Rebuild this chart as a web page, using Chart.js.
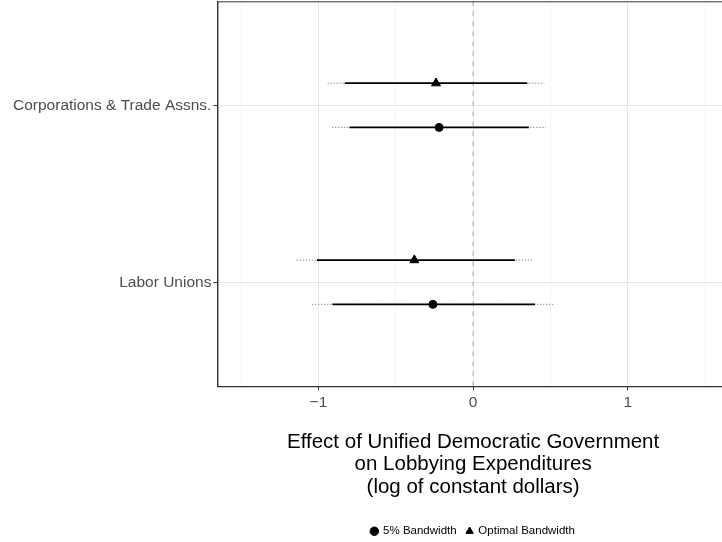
<!DOCTYPE html>
<html>
<head>
<meta charset="utf-8">
<script src="https://cdn.jsdelivr.net/npm/chart.js@4"></script>
<style>
  html, body { margin: 0; padding: 0; background: #fff; overflow: hidden; }
  /* shifted up so the panel touches the top edge like the original */
  #wrap { width: 735px; height: 557px; margin-top: -10px; }
</style>
</head>
<body>
<div id="wrap"><canvas id="coefChart"></canvas></div>
<script>
// Groups, top to bottom, and their position on the y scale
const groups = ["Corporations & Trade Assns.", "Labor Unions"];
const groupPos = [2, 1];
const dodge = 0.125;

// 5% bandwidth (circles)
const est5 = [-0.22, -0.26];
const inner5Lo = [-0.80, -0.91];
const inner5Hi = [0.36, 0.40];
const outer5Lo = [-0.91, -1.04];
const outer5Hi = [0.47, 0.53];

// Optimal bandwidth (triangles)
const estOpt = [-0.24, -0.38];
const innerOptLo = [-0.83, -1.01];
const innerOptHi = [0.35, 0.27];
const outerOptLo = [-0.94, -1.14];
const outerOptHi = [0.46, 0.39];

// x axis
const xTicks = [-1.5, -1, -0.5, 0, 0.5, 1, 1.5];
const xMin = -1.653;
const xMax = 1.653;
const yMin = 0.412;
const yMax = 2.588;
const zeroLine = 0;

const font = "'Liberation Sans', Arial, sans-serif";

// y positions (triangles above, circles below)
const yOpt = groupPos.map(p => p + dodge);
const y5 = groupPos.map(p => p - dodge);

function segments(lo, hi, ys, style) {
	return ys.map((y, i) => Object.assign({
		type: "line",
		label: "_seg",
		data: [{ x: lo[i], y: y }, { x: hi[i], y: y }],
		pointRadius: 0,
		fill: false,
	}, style));
}

const solid = { borderColor: "#000", borderWidth: 1.8 };
const dotted = { borderColor: "#666", borderWidth: 1, borderDash: [1, 2] };

const datasets = [
	{
		type: "scatter",
		label: "5% Bandwidth",
		data: est5.map((v, i) => ({ x: v, y: y5[i] })),
		pointStyle: "circle",
		pointRadius: 4,
		backgroundColor: "#000",
		borderColor: "#000",
	},
	{
		type: "scatter",
		label: "Optimal Bandwidth",
		data: estOpt.map((v, i) => ({ x: v, y: yOpt[i] })),
		pointStyle: "triangle",
		pointRadius: 5.2,
		backgroundColor: "#000",
		borderColor: "#000",
	},
	...segments(inner5Lo, inner5Hi, y5, solid),
	...segments(innerOptLo, innerOptHi, yOpt, solid),
	...segments(outer5Lo, outer5Hi, y5, dotted),
	...segments(outerOptLo, outerOptHi, yOpt, dotted),
	{
		type: "line",
		label: "_zero",
		data: [{ x: zeroLine, y: yMin }, { x: zeroLine, y: yMax }],
		borderColor: "#c4c4c4",
		borderWidth: 1.5,
		borderDash: [5, 5],
		pointRadius: 0,
	},
];

// panel border on top of everything
const panelBorder = {
	id: "panelBorder",
	afterDatasetsDraw(chart) {
		const a = chart.chartArea;
		const ctx = chart.ctx;
		ctx.save();
		ctx.strokeStyle = "#333";
		ctx.lineWidth = 1;
		ctx.strokeRect(a.left + 0.5, a.top + 0.5, a.right - a.left, a.bottom - a.top);
		ctx.restore();
	},
};

new Chart(document.getElementById("coefChart"), {
	type: "scatter",
	data: { datasets: datasets },
	plugins: [panelBorder],
	options: {
		responsive: true,
		maintainAspectRatio: false,
		animation: false,
		layout: { padding: { top: 0, left: 11, right: 4, bottom: 0 } },
		scales: {
			x: {
				type: "linear",
				min: xMin,
				max: xMax,
				afterBuildTicks: (scale) => {
					scale.ticks = xTicks.map(v => ({ value: v }));
				},
				ticks: {
					autoSkip: false,
					maxRotation: 0,
					color: "#4d4d4d",
					font: { family: font, size: 15.5 },
					padding: 3,
					callback: (v) => Number.isInteger(v) ? String(v).replace("-", "\u2212") : "",
				},
				grid: {
					color: (c) => Number.isInteger(c.tick.value) ? "#e6e6e6" : "#f0f0f0",
					lineWidth: (c) => Number.isInteger(c.tick.value) ? 1 : 0.8,
					tickColor: (c) => Number.isInteger(c.tick.value) ? "#333" : "rgba(0,0,0,0)",
					tickLength: 4,
				},
				border: { color: "#333", width: 1 },
				title: {
					display: true,
					text: [
						"Effect of Unified Democratic Government",
						"on Lobbying Expenditures",
						"(log of constant dollars)",
					],
					color: "#000",
					font: { family: font, size: 20.5, lineHeight: 1.1 },
					padding: { top: 16, bottom: 17 },
				},
			},
			y: {
				type: "linear",
				min: yMin,
				max: yMax,
				afterBuildTicks: (scale) => {
					scale.ticks = groupPos.map(v => ({ value: v }));
				},
				ticks: {
					color: "#4d4d4d",
					font: { family: font, size: 15.5 },
					padding: 2,
					callback: (v) => groups[groupPos.indexOf(v)],
				},
				grid: {
					color: "#e6e6e6",
					tickColor: "#333",
					tickLength: 4,
				},
				border: { color: "#333", width: 1 },
			},
		},
		plugins: {
			legend: {
				position: "bottom",
				fullSize: false,
				labels: {
					filter: (item) => !item.text.startsWith("_"),
					usePointStyle: true,
					boxWidth: 6,
					boxHeight: 6,
					padding: 10,
					color: "#000",
					font: { family: font, size: 11.5 },
				},
			},
			tooltip: { enabled: false },
		},
	},
});
</script>
</body>
</html>
